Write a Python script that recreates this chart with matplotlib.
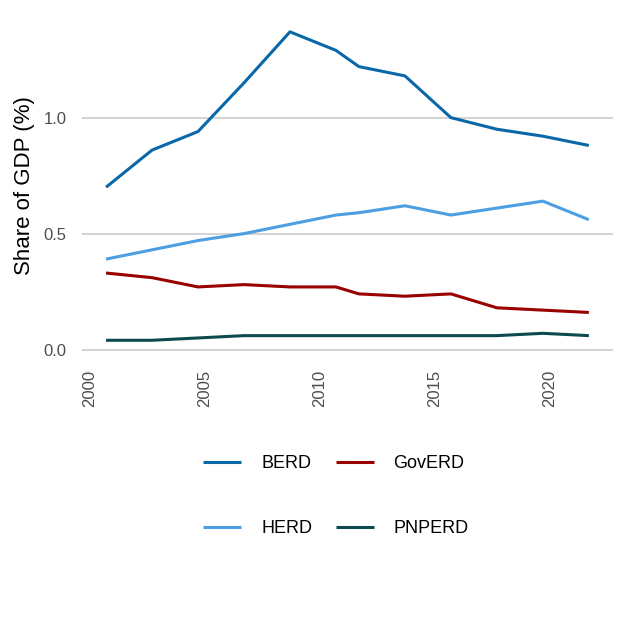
import numpy as np
import matplotlib.pyplot as plt

plt.rcParams['font.family'] = ['Liberation Sans', 'DejaVu Sans']

# financial years, plotted part-way through the starting year
periods = ['2000-01', '2002-03', '2004-05', '2006-07', '2008-09', '2010-11',
           '2011-12', '2013-14', '2015-16', '2017-18', '2019-20', '2021-22']
berd = [0.70, 0.86, 0.94, 1.15, 1.37, 1.29, 1.22, 1.18, 1.00, 0.95, 0.92, 0.88]
govERD = [0.33, 0.31, 0.27, 0.28, 0.27, 0.27, 0.24, 0.23, 0.24, 0.18, 0.17, 0.16]
herd = [0.39, 0.43, 0.47, 0.50, 0.54, 0.58, 0.59, 0.62, 0.58, 0.61, 0.64, 0.56]
pnperd = [0.04, 0.04, 0.05, 0.06, 0.06, 0.06, 0.06, 0.06, 0.06, 0.06, 0.07, 0.06]

x = np.array([int(p[:4]) for p in periods]) + 0.7

# column-wise order so rows read BERD/GovERD, HERD/PNPERD
series = [('BERD', berd, '#0b68a8'), ('HERD', herd, '#4c9fe2'),
          ('GovERD', govERD, '#990000'), ('PNPERD', pnperd, '#0c4a4e')]

fig = plt.figure(figsize=(6.3, 6.31), dpi=100)
ax = fig.add_axes([0.130, 0.4363, 0.843, 0.5377])

for name, vals, col in series:
    ax.plot(x, vals, color=col, lw=2.2, label=name, solid_capstyle='butt')

# ggplot-like 5% expansion
allv = np.concatenate([berd, govERD, herd, pnperd])
xr = x.max() - x.min()
yr = allv.max() - allv.min()
ax.set_xlim(x.min() - 0.05 * xr, x.max() + 0.05 * xr)
ax.set_ylim(allv.min() - 0.05 * yr, allv.max() + 0.05 * yr)

ax.set_yticks([0.0, 0.5, 1.0])
ax.set_yticklabels(['0.0', '0.5', '1.0'])
ax.set_xticks([2000, 2005, 2010, 2015, 2020])
ax.set_xticklabels(['2000', '2005', '2010', '2015', '2020'], rotation=90)

ax.grid(axis='y', color='#c8c8c8', lw=1.1)
ax.grid(axis='x', visible=False)
ax.set_axisbelow(True)
for s in ax.spines.values():
    s.set_visible(False)
ax.tick_params(axis='both', length=0, labelsize=12, labelcolor='#4d4d4d')
ax.tick_params(axis='y', pad=11)
ax.tick_params(axis='x', pad=10)

fig.text(25 / 630, 1 - 186 / 631, 'Share of GDP (%)', rotation=90,
         ha='center', va='center', fontsize=16)

fig.legend(loc='center', bbox_to_anchor=(336 / 630, 1 - 496 / 631), ncol=2,
           frameon=False, fontsize=13, handlelength=2.1, handletextpad=1.1,
           columnspacing=1.3, labelspacing=2.65)

fig.savefig('out.png', dpi=100)
